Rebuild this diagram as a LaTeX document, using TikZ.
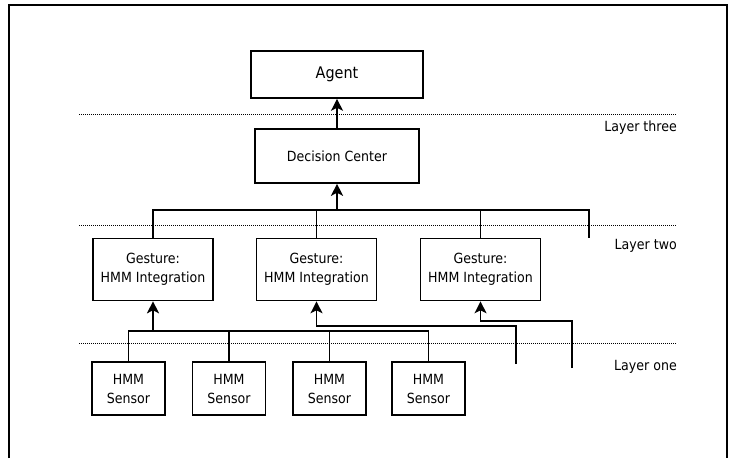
\documentclass[tikz,border=0pt]{standalone}
\usepackage{fontspec}
\setmainfont{DejaVu Sans}[FakeStretch=0.9]
\usepackage{tikz}
\usetikzlibrary{arrows.meta}

\tikzset{
  box/.style={draw, line width=1.6pt, align=center, inner sep=0pt},
  link/.style={line width=1.2pt},
  uplink/.style={line width=1.2pt, -{Stealth[length=12pt, width=12pt, inset=3pt]}},
  bold/.style={line width=2pt},
  layer/.style={line width=1pt, dotted, dash pattern=on 1pt off 1pt},
  lbl/.style={anchor=east, inner sep=0pt}
}

\begin{document}
\begin{tikzpicture}[x=1pt, y=-1pt]

  \fontsize{14}{19}\selectfont

  \useasboundingbox (0,0) rectangle (735,458);
  \draw[line width=1.5pt] (9,458) -- (9,5) -- (727,5) -- (727,458);

  %% layers
  \draw[layer] (79,114) -- (677,114);
  \draw[layer] (79,225) -- (677,225);
  \draw[layer] (79,343) -- (677,343);
  \node[lbl] (lthree) at (677,128) {Layer three};
  \node[lbl] (ltwo)   at (677,246) {Layer two};
  \node[lbl] (lone)   at (677,367) {Layer one};

  %% boxes
  \node[box, minimum width=172, minimum height=47, font=\fontsize{16}{19}\selectfont] (agent) at (337,74.5) {Agent};
  \node[box, minimum width=164, minimum height=54] (dc) at (337,156) {Decision Center};

  \node[box, minimum width=120, minimum height=62] (g1) at (153,269.5) {Gesture:\\HMM Integration};
  \node[box, minimum width=120, minimum height=62] (g2) at (316.5,269.5) {Gesture:\\HMM Integration};
  \node[box, minimum width=120, minimum height=62] (g3) at (480.5,269.5) {Gesture:\\HMM Integration};

  \node[box, minimum width=73, minimum height=53] (s1) at (128.5,388.5) {HMM\\Sensor};
  \node[box, minimum width=73, minimum height=53] (s2) at (229,388.5) {HMM\\Sensor};
  \node[box, minimum width=73, minimum height=53] (s3) at (329.5,388.5) {HMM\\Sensor};
  \node[box, minimum width=73, minimum height=53] (s4) at (428.5,388.5) {HMM\\Sensor};

  \coordinate (topbus) at (337,210);
  \coordinate (stub) at (589,238);
  \coordinate (lowbus) at (153,331);
  \coordinate (in2) at (516,364);
  \coordinate (in3) at (572,368);

  \draw[uplink] (dc) -- (agent); %% dc->agent

  %% gestures -> dc
  \draw[link] (g1.north) |- (stub |- topbus) -- (stub);
  \draw[link] (g2.north) -- (g2.north |- topbus);
  \draw[link] (g3.north) -- (g3.north |- topbus);
  \draw[uplink, bold] (topbus) -- (dc.south);

  %% sensors -> g1
  \draw[link] (s1.north) |- (s4.north |- lowbus) -- (s4.north);
  \draw[link] (s2.north) -- (s2.north |- lowbus);
  \draw[link] (s3.north) -- (s3.north |- lowbus);
  \draw[uplink, bold] (lowbus) -- (g1.south);

  \draw[uplink] (in2) -- ++(0,-38) -| (g2.south); %% -> g2
  \draw[uplink] (in3) -- ++(0,-47) -| (g3.south); %% -> g3
\end{tikzpicture}
\end{document}
